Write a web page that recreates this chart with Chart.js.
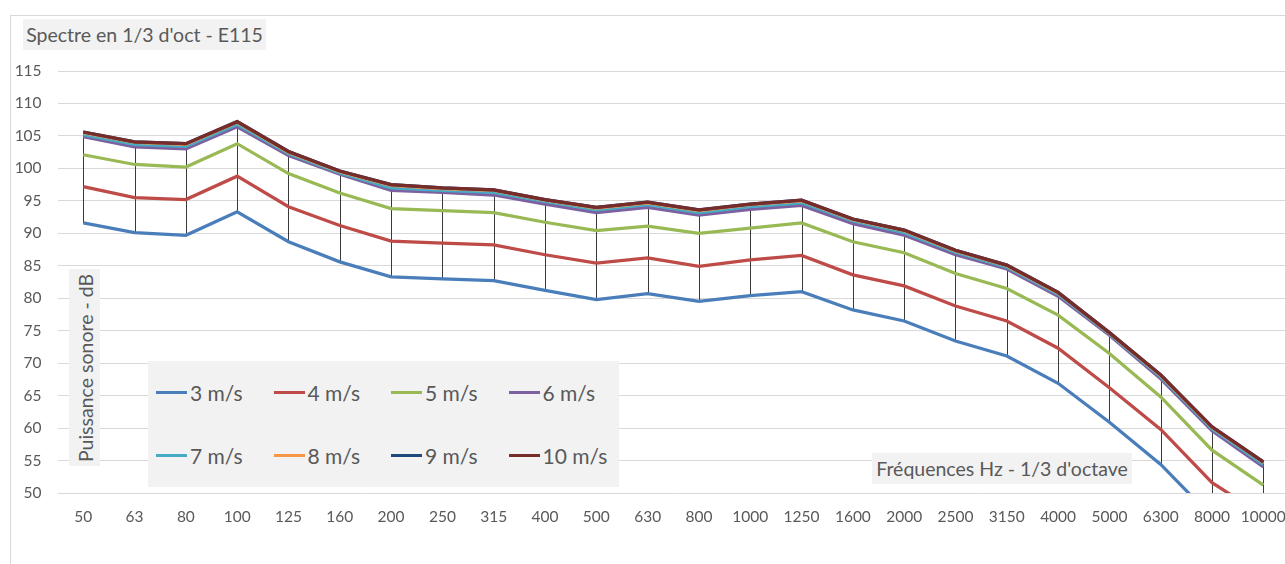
<!DOCTYPE html>
<html>
<head>
<meta charset="utf-8">
<script src="https://cdn.jsdelivr.net/npm/chart.js@4.4.1/dist/chart.umd.min.js"></script>
<style>
  html, body { margin: 0; padding: 0; background: #fff; overflow: hidden; }
  body { width: 1285px; height: 564px; position: relative; font-family: Lato, "Open Sans", sans-serif; color: #595959; }
  #frame { position: absolute; left: 10px; top: 15px; width: 1300px; height: 600px; border: 1px solid #d9d9d9; box-sizing: border-box; }
  #wrap { position: absolute; left: 0; top: 0; width: 1289px; height: 564px; }
  .box { position: absolute; background: #f2f2f2; color: #595959; white-space: nowrap; }
  #title { left: 23px; top: 19px; width: 243px; height: 31px; font-size: 19.5px; line-height: 31px; text-align: center; }
  #ytitle { left: 69px; top: 269px; width: 31px; height: 197px; }
  #ytitle span { position: absolute; left: 50%; top: 50%; transform: translate(-50%, -50%) rotate(-90deg); font-size: 19.5px; }
  #xtitle { left: 872px; top: 453px; width: 260px; height: 31px; font-size: 19.5px; line-height: 31px; text-align: center; }
  #legend { left: 148px; top: 361px; width: 471px; height: 126px; }
  .item { position: absolute; height: 26px; display: flex; align-items: center; font-size: 21px; }
  .item i { display: inline-block; width: 31px; height: 3px; margin-right: 3px; }
</style>
</head>
<body>
<div id="frame"></div>
<div id="wrap"><canvas id="c"></canvas></div>
<div class="box" id="title">Spectre en 1/3 d'oct - E115</div>
<div class="box" id="ytitle"><span>Puissance sonore - dB</span></div>
<div class="box" id="xtitle">Fréquences Hz - 1/3 d'octave</div>
<div class="box" id="legend"></div>
<script>
const categories = ['50','63','80','100','125','160','200','250','315','400','500','630','800','1000','1250','1600','2000','2500','3150','4000','5000','6300','8000','10000'];
const seriesNames = ['3 m/s','4 m/s','5 m/s','6 m/s','7 m/s','8 m/s','9 m/s','10 m/s'];
const s3  = [91.6, 90.1, 89.7, 93.3, 88.7, 85.6, 83.3, 83.0, 82.7, 81.2, 79.8, 80.7, 79.5, 80.4, 81.0, 78.2, 76.5, 73.4, 71.1, 66.9, 60.9, 54.4, 46.3, 41.5];
const s4  = [97.2, 95.5, 95.2, 98.8, 94.1, 91.2, 88.8, 88.5, 88.2, 86.7, 85.4, 86.2, 84.9, 85.9, 86.6, 83.6, 81.9, 78.8, 76.5, 72.3, 66.2, 59.8, 51.6, 46.5];
const s5  = [102.1, 100.6, 100.2, 103.8, 99.2, 96.2, 93.8, 93.5, 93.2, 91.7, 90.4, 91.1, 90.0, 90.8, 91.6, 88.7, 87.0, 83.8, 81.5, 77.4, 71.5, 64.8, 56.6, 51.2];
const s6  = [104.9, 103.3, 103.0, 106.4, 102.0, 99.1, 96.6, 96.3, 95.9, 94.5, 93.2, 94.0, 92.8, 93.7, 94.3, 91.5, 89.7, 86.7, 84.5, 80.3, 74.3, 67.6, 59.6, 54.0];
const s7  = [105.2, 103.7, 103.4, 106.8, 102.3, 99.3, 97.0, 96.6, 96.3, 94.9, 93.6, 94.4, 93.2, 94.1, 94.7, 91.9, 90.1, 87.1, 84.8, 80.6, 74.5, 67.9, 59.9, 54.4];
const s8  = [105.5, 104.0, 103.7, 107.1, 102.5, 99.5, 97.4, 96.9, 96.6, 95.1, 93.9, 94.7, 93.5, 94.4, 95.0, 92.1, 90.4, 87.3, 85.0, 80.8, 74.6, 68.1, 60.1, 54.7];
const s9  = [105.6, 104.1, 103.8, 107.2, 102.6, 99.6, 97.5, 97.0, 96.7, 95.2, 94.0, 94.8, 93.6, 94.5, 95.1, 92.2, 90.5, 87.4, 85.1, 80.9, 74.7, 68.2, 60.2, 54.8];
const s10 = [105.6, 104.1, 103.8, 107.2, 102.6, 99.6, 97.5, 97.0, 96.7, 95.2, 94.0, 94.8, 93.6, 94.5, 95.1, 92.2, 90.5, 87.4, 85.1, 80.9, 74.7, 68.2, 60.2, 54.8];
const yTicks = [50, 55, 60, 65, 70, 75, 80, 85, 90, 95, 100, 105, 110, 115];

const allSeries = [s3, s4, s5, s6, s7, s8, s9, s10];
const colors = ['#4a7ebb', '#be4b48', '#98b954', '#7d60a0', '#46aac5', '#f79646', '#1f497d', '#772c2a'];

const datasets = allSeries.map((d, i) => ({
  label: seriesNames[i],
  data: d,
  borderColor: colors[i],
  backgroundColor: colors[i],
  borderWidth: 3.25,
  pointRadius: 0,
  pointHoverRadius: 0,
  tension: 0,
  fill: false,
  order: allSeries.length - i
}));

const hiLow = {
  id: 'hiLow',
  beforeDatasetsDraw(chart) {
    const { ctx, chartArea, scales } = chart;
    ctx.save();
    ctx.beginPath();
    ctx.rect(chartArea.left, chartArea.top, chartArea.right - chartArea.left, chartArea.bottom - chartArea.top);
    ctx.clip();
    ctx.strokeStyle = '#3a3a3a';
    ctx.lineWidth = 1;
    categories.forEach((c, j) => {
      const vals = allSeries.map(s => s[j]);
      const x = Math.round(scales.x.getPixelForValue(j)) + 0.5;
      const yTop = scales.y.getPixelForValue(Math.max(...vals));
      const yBot = scales.y.getPixelForValue(Math.min(...vals));
      ctx.beginPath();
      ctx.moveTo(x, yTop);
      ctx.lineTo(x, yBot);
      ctx.stroke();
    });
    ctx.restore();
  }
};

new Chart(document.getElementById('c'), {
  type: 'line',
  data: { labels: categories, datasets },
  plugins: [hiLow],
  options: {
    responsive: true,
    maintainAspectRatio: false,
    animation: false,
    events: [],
    layout: { padding: { top: 71, left: 0, right: 0, bottom: 0 } },
    plugins: { legend: { display: false }, title: { display: false }, tooltip: { enabled: false } },
    scales: {
      x: {
        offset: true,
        grid: { display: false, drawTicks: false },
        border: { display: false },
        ticks: { color: '#595959', font: { family: 'Lato', size: 15.5 }, padding: 15, maxRotation: 0, autoSkip: false },
        afterFit(s) { s.height = 71; s.paddingLeft = 0; s.paddingRight = 0; }
      },
      y: {
        min: 50, max: 115,
        afterBuildTicks(s) { s.ticks = yTicks.map(v => ({ value: v })); },
        grid: { color: '#d9d9d9', lineWidth: 1, drawTicks: false },
        border: { display: false },
        ticks: { color: '#595959', font: { family: 'Lato', size: 15.5 }, padding: 16 },
        afterFit(s) { s.width = 57.6; }
      }
    }
  }
});

const legend = document.getElementById('legend');
seriesNames.forEach((n, i) => {
  const col = i % 4, row = Math.floor(i / 4);
  const el = document.createElement('div');
  el.className = 'item';
  el.style.left = (156 - 148 + col * 117.5) + 'px';
  el.style.top = (392 - 361 - 13 + row * 63.5) + 'px';
  el.innerHTML = '<i style="background:' + colors[i] + '"></i><span>' + n + '</span>';
  legend.appendChild(el);
});
</script>
</body>
</html>
